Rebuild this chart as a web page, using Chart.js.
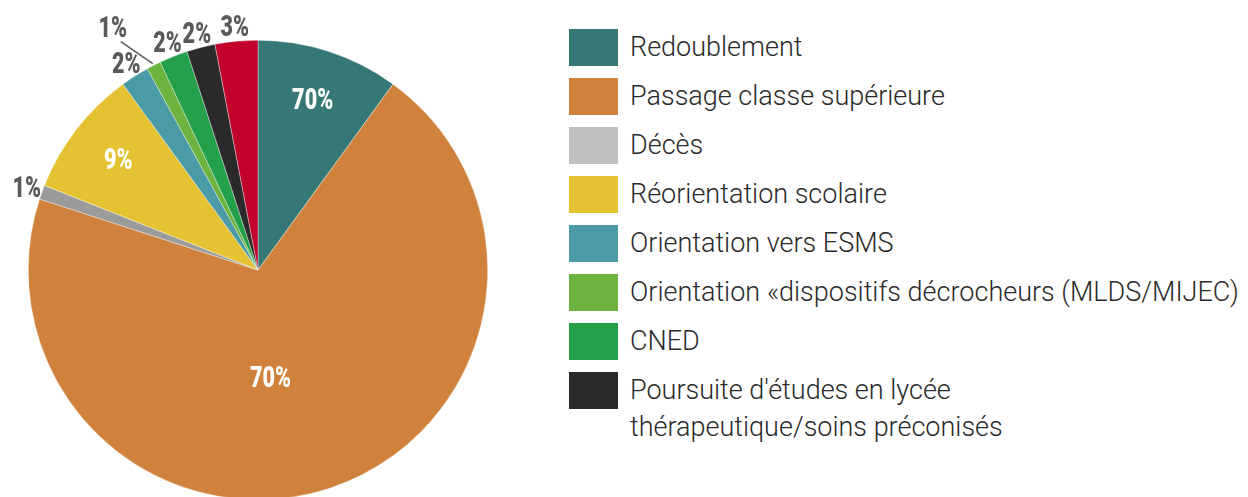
<!DOCTYPE html>
<html>
<head>
<meta charset="utf-8">
<script src="https://cdn.jsdelivr.net/npm/chart.js@4"></script>
<style>
  html, body { margin: 0; padding: 0; background: #fff; overflow: hidden; width: 1248px; height: 497px; }
  #pie { position: absolute; left: 0; top: 0; }
  #legend { position: absolute; left: 569px; top: 29px; font-family: Roboto, "Open Sans", sans-serif; font-weight: 300; color: #2a2a2a; }
  .row { display: flex; align-items: flex-start; margin-bottom: 12px; }
  .box { width: 49px; height: 37px; flex: none; }
  .txt { margin-left: 12px; font-size: 27px; line-height: 37px; white-space: nowrap; }
</style>
</head>
<body>
<canvas id="pie" width="520" height="540"></canvas>
<div id="legend"></div>
<script>
const categories = [
  'Redoublement',
  'Passage classe supérieure',
  'Décès',
  'Réorientation scolaire',
  'Orientation vers ESMS',
  'Orientation «dispositifs décrocheurs (MLDS/MIJEC)',
  'CNED',
  ["Poursuite d'études en lycée", 'thérapeutique/soins préconisés'],
  'Autre'
]
const shares = [10, 70, 1, 9, 2, 1, 2, 2, 3]
const sliceLabels = ['70%', '70%', '1%', '9%', '2%', '1%', '2%', '2%', '3%']
const inLegend = [true, true, true, true, true, true, true, true, false]
const sliceColours = ['#357876', '#d0823c', '#9b9b9b', '#e5c232', '#4a9ba5', '#6db33f', '#24a04a', '#2a2a2a', '#c0022c']
const legendColours = ['#357876', '#d0823c', '#c0c0c0', '#e5c232', '#4a9ba5', '#6db33f', '#24a04a', '#2a2a2a', '#c0022c']

const labelFont = '900 30px Roboto, "DejaVu Sans", sans-serif'
const squeeze = 0.72 // fake a condensed face

function drawLabel(ctx, text, x, y) {
  ctx.save()
  ctx.translate(x, y)
  ctx.scale(squeeze, 1)
  ctx.fillText(text, 0, 0)
  ctx.restore()
}

// draws the % labels: white inside big slices, grey outside small ones
const pctLabels = {
  id: 'pctLabels',
  afterDatasetsDraw(chart) {
    const ctx = chart.ctx
    const meta = chart.getDatasetMeta(0)
    ctx.save()
    ctx.font = labelFont
    ctx.textAlign = 'center'
    ctx.textBaseline = 'middle'
    meta.data.forEach((arc, i) => {
      const mid = (arc.startAngle + arc.endAngle) / 2
      const R = arc.outerRadius
      const v = shares[i]
      if (v >= 5) {
        let r = R * 0.77
        let a = mid
        if (v > 50) { r = R * 0.48; a = mid + 0.2 }
        ctx.fillStyle = '#ffffff'
        drawLabel(ctx, sliceLabels[i], arc.x + Math.cos(a) * r, arc.y + Math.sin(a) * r)
      } else if (i == 5) {
        // leader line for the squeezed slice
        const sx = arc.x + Math.cos(mid) * (R + 2)
        const sy = arc.y + Math.sin(mid) * (R + 2)
        const ex = sx - 32, ey = sy - 22
        ctx.strokeStyle = '#5a5a5a'
        ctx.lineWidth = 1.5
        ctx.beginPath()
        ctx.moveTo(sx, sy)
        ctx.lineTo(ex, ey)
        ctx.stroke()
        ctx.fillStyle = '#5a5a5a'
        drawLabel(ctx, sliceLabels[i], ex - 8, ey - 12)
      } else {
        const r = R + 16
        ctx.fillStyle = '#5a5a5a'
        drawLabel(ctx, sliceLabels[i], arc.x + Math.cos(mid) * r, arc.y + Math.sin(mid) * r + 3)
      }
    })
    ctx.restore()
  }
}

const ctx = document.getElementById('pie').getContext('2d')
const chart = new Chart(ctx, {
  type: 'pie',
  data: {
    labels: categories,
    datasets: [{
      data: shares,
      backgroundColor: sliceColours,
      borderColor: 'rgba(255,255,255,0.6)',
      borderWidth: 0.6
    }]
  },
  options: {
    responsive: false,
    animation: false,
    devicePixelRatio: 1,
    layout: { padding: { left: 28, right: 32, top: 40, bottom: 40 } },
    plugins: {
      legend: { display: false },
      tooltip: { enabled: false }
    }
  },
  plugins: [pctLabels]
})

// html legend
const legend = document.getElementById('legend')
categories.forEach((c, i) => {
  if (!inLegend[i]) return
  const row = document.createElement('div')
  row.className = 'row'
  const box = document.createElement('div')
  box.className = 'box'
  box.style.background = legendColours[i]
  const txt = document.createElement('div')
  txt.className = 'txt'
  txt.innerHTML = (Array.isArray(c) ? c : [c]).join('<br>')
  row.appendChild(box)
  row.appendChild(txt)
  legend.appendChild(row)
})
</script>
</body>
</html>
